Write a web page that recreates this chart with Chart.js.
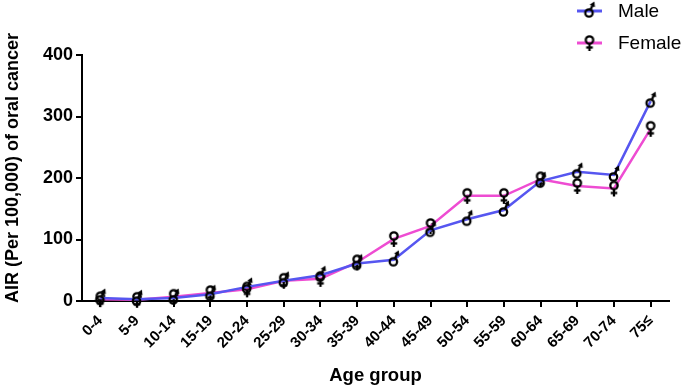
<!DOCTYPE html>
<html><head><meta charset="utf-8">
<script src="https://cdn.jsdelivr.net/npm/chart.js@4/dist/chart.umd.min.js"></script>
<style>html,body{margin:0;padding:0;background:#fff;}#wrap{width:685px;height:387px;}</style>
</head><body><div id="wrap"><canvas id="c" width="685" height="387"></canvas></div>
<script>
const ageGroups = ['0-4','5-9','10-14','15-19','20-24','25-29','30-34','35-39','40-44','45-49','50-54','55-59','60-64','65-69','70-74','75≤'];
const maleAIR   = [5, 3, 5, 11, 23, 33, 42, 61, 67, 115, 133, 148, 195, 210, 205, 325];
const femaleAIR = [3, 2, 7, 13, 19, 33, 36, 63, 101, 122, 171, 171, 198, 187, 183, 280];
const yTicks = [0, 100, 200, 300, 400];
const seriesNames = ['Male', 'Female'];
const xTitle = 'Age group';
const yTitle = 'AIR (Per 100,000) of oral cancer';

const FONT = "'Liberation Sans', Arial, sans-serif";

function maleSym(){
  const c=document.createElement('canvas'); c.width=24; c.height=24;
  const g=c.getContext('2d'); g.strokeStyle='#000'; g.fillStyle='#000'; g.lineWidth=2.3;
  const cx=11.5, cy=14, r=3.7;
  g.beginPath(); g.arc(cx,cy,r,0,Math.PI*2); g.stroke();
  const a=-65*Math.PI/180, co=Math.cos(a), si=Math.sin(a);
  g.beginPath(); g.moveTo(cx+r*co, cy+r*si); g.lineTo(cx+9*co, cy+9*si); g.stroke();
  const tip=12.8, base=7.8, hw=2.9;
  const px=-si, py=co;
  g.beginPath();
  g.moveTo(cx+tip*co, cy+tip*si);
  g.lineTo(cx+base*co+hw*px, cy+base*si+hw*py);
  g.lineTo(cx+base*co-hw*px, cy+base*si-hw*py);
  g.closePath(); g.fill();
  return c;
}
function femaleSym(){
  const c=document.createElement('canvas'); c.width=24; c.height=24;
  const g=c.getContext('2d'); g.strokeStyle='#000'; g.lineWidth=2.3;
  const cx=12, cy=9, r=3.7;
  g.beginPath(); g.arc(cx,cy,r,0,Math.PI*2); g.stroke();
  g.beginPath(); g.moveTo(cx, cy+r); g.lineTo(cx, 20); g.stroke();
  g.beginPath(); g.moveTo(cx-3.3, 16.5); g.lineTo(cx+3.3, 16.5); g.stroke();
  return c;
}
const mImg = maleSym(), fImg = femaleSym();

const legendPlugin = {
  id: 'vlegend',
  afterDraw(chart){
    const ctx = chart.ctx;
    const rows = [11, 43];
    chart.data.datasets.forEach((ds, i) => {
      const y = rows[i];
      ctx.save();
      ctx.strokeStyle = ds.borderColor; ctx.lineWidth = 3;
      ctx.beginPath(); ctx.moveTo(577, y); ctx.lineTo(602, y); ctx.stroke();
      const img = ds.pointStyle;
      ctx.drawImage(img, 589.5 - img.width/2, y - img.height/2);
      ctx.fillStyle = '#000'; ctx.font = '19px ' + FONT;
      ctx.textBaseline = 'middle'; ctx.textAlign = 'left';
      ctx.fillText(ds.label, 618, y + 1);
      ctx.restore();
    });
  }
};

const yTitlePlugin = {
  id: 'ytitle',
  afterDraw(chart){
    const ctx = chart.ctx;
    ctx.save();
    ctx.translate(13, 168);
    ctx.rotate(-Math.PI/2);
    ctx.fillStyle = '#000';
    ctx.font = 'bold 18px ' + FONT;
    ctx.textAlign = 'center'; ctx.textBaseline = 'middle';
    ctx.fillText(yTitle, 0, 0);
    ctx.restore();
  }
};

new Chart(document.getElementById('c'), {
  type: 'line',
  data: {
    labels: ageGroups,
    datasets: [
      { label: seriesNames[0], data: maleAIR, borderColor: '#5656F0', borderWidth: 2.5, tension: 0,
        pointStyle: mImg, pointRadius: 6, clip: false },
      { label: seriesNames[1], data: femaleAIR, borderColor: '#EE4CD2', borderWidth: 2.5, tension: 0,
        pointStyle: fImg, pointRadius: 6, clip: false }
    ]
  },
  options: {
    responsive: false,
    animation: false,
    devicePixelRatio: 1,
    layout: { padding: { top: 55, right: 16, bottom: 0, left: 0 } },
    plugins: { legend: { display: false }, tooltip: { enabled: false } },
    scales: {
      x: {
        offset: true,
        grid: { offset: false, drawOnChartArea: false, drawTicks: true, tickLength: 6, color: '#000', lineWidth: 2 },
        border: { color: '#000', width: 2 },
        ticks: { color: '#000', font: { family: FONT, size: 15, weight: 'bold' }, minRotation: 45, maxRotation: 45, padding: 5, autoSkip: false },
        title: { display: true, text: xTitle, color: '#000', font: { family: FONT, size: 18.5, weight: 'bold', lineHeight: 1.2 }, padding: { top: 0, bottom: 0 } },
        afterFit(s){ s.height = 86; }
      },
      y: {
        min: 0, max: 400,
        afterBuildTicks(s){ s.ticks = yTicks.map(v => ({ value: v })); },
        grid: { drawOnChartArea: false, drawTicks: true, tickLength: 6, color: '#000', lineWidth: 2 },
        border: { color: '#000', width: 2 },
        ticks: { color: '#000', font: { family: FONT, size: 18, weight: 'bold' }, padding: 3 },
        title: { display: false },
        afterFit(s){ s.width = 82; }
      }
    }
  },
  plugins: [legendPlugin, yTitlePlugin]
});
</script>
</body></html>
